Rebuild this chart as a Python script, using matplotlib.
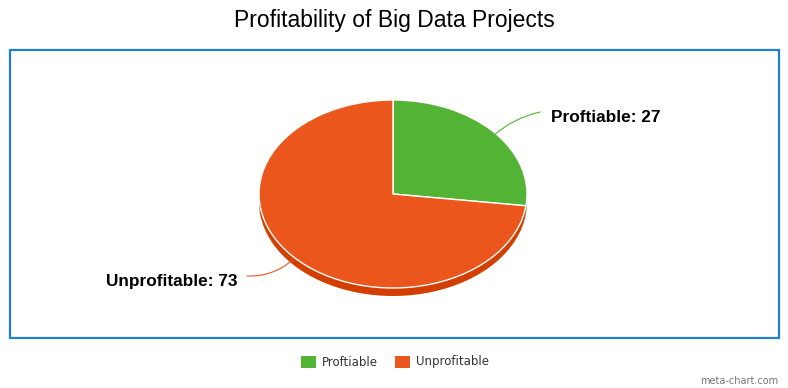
import numpy as np
import matplotlib.pyplot as plt
from matplotlib.patches import Rectangle

# data
labels = ['Proftiable', 'Unprofitable']
values = [27, 73]
colors = ['#52b334', '#eb561d']
side_colors = ['#3f9a22', '#d23f00']
title = 'Profitability of Big Data Projects'

W, H = 788, 388
fig = plt.figure(figsize=(W / 100, H / 100), dpi=100)
plt.rcParams['font.family'] = ['Liberation Sans', 'DejaVu Sans']


def fx(px):
    return px / W


def fy(py):
    return 1 - py / H


# blue frame
fig.patches.append(Rectangle((fx(9.5), fy(338)), fx(769), 288 / H,
                             transform=fig.transFigure, fill=False,
                             edgecolor='#1f7fd2', linewidth=1.6))

fig.text(0.5, fy(20), title, ha='center', va='center', fontsize=16.5)

# pie axes, ellipse centre (393,194), rx 134, ry 94
cx, cy, rx, ry = 393, 194, 134, 94
aw, ah = 2.5 * rx, 2.5 * ry
ax = fig.add_axes([fx(cx - aw / 2), fy(cy + ah / 2), aw / W, ah / H])
depth = 8 / ry

# side (rim) drawn as a shifted pie
ax.pie(values, colors=side_colors, startangle=90, counterclock=False,
       center=(0, -depth), wedgeprops=dict(linewidth=0))
ax.pie(values, colors=colors, startangle=90, counterclock=False,
       wedgeprops=dict(edgecolor='white', linewidth=1.0))
ax.set_aspect('auto')
ax.set_xlim(-1.25, 1.25)
ax.set_ylim(-1.25, 1.25)
ax.axis('off')


def to_data(px, py):
    return (px - cx) / rx, (cy - py) / ry


# labels with curved connectors
total = sum(values)
start = 0
for i, v in enumerate(values):
    mid = (start + v / 2) / total * 2 * np.pi
    start += v
    x0, y0 = np.sin(mid), np.cos(mid)
    if x0 > 0:
        end = to_data(540, 112)
        tpos = to_data(551, 117)
        ha = 'left'
        rad = 0.13
    else:
        end = to_data(247, 276)
        tpos = to_data(238, 281)
        ha = 'right'
        rad = 0.2
    ax.annotate('', xy=(x0, y0 - 0.04), xytext=end,
                annotation_clip=False,
                arrowprops=dict(arrowstyle='-', color=colors[i], lw=0.8,
                                connectionstyle=f'arc3,rad={rad}',
                                shrinkA=0, shrinkB=0))
    ax.text(tpos[0], tpos[1], f'{labels[i]}: {v}', ha=ha, va='center',
            fontsize=12.4, fontweight='bold', clip_on=False)

# legend
lx = [301, 395]
for i, lab in enumerate(labels):
    fig.patches.append(Rectangle((fx(lx[i]), fy(368)), 15 / W, 12 / H,
                                 transform=fig.transFigure,
                                 facecolor=colors[i], edgecolor='none'))
    fig.text(fx(lx[i] + 21), fy(362), lab, ha='left', va='center',
             fontsize=8.5, family='DejaVu Sans', color='#333333')

fig.text(fx(778), fy(381), 'meta-chart.com', ha='right', va='center',
         fontsize=7, family='DejaVu Sans', color='#777777')

plt.savefig('out.png', dpi=100)
